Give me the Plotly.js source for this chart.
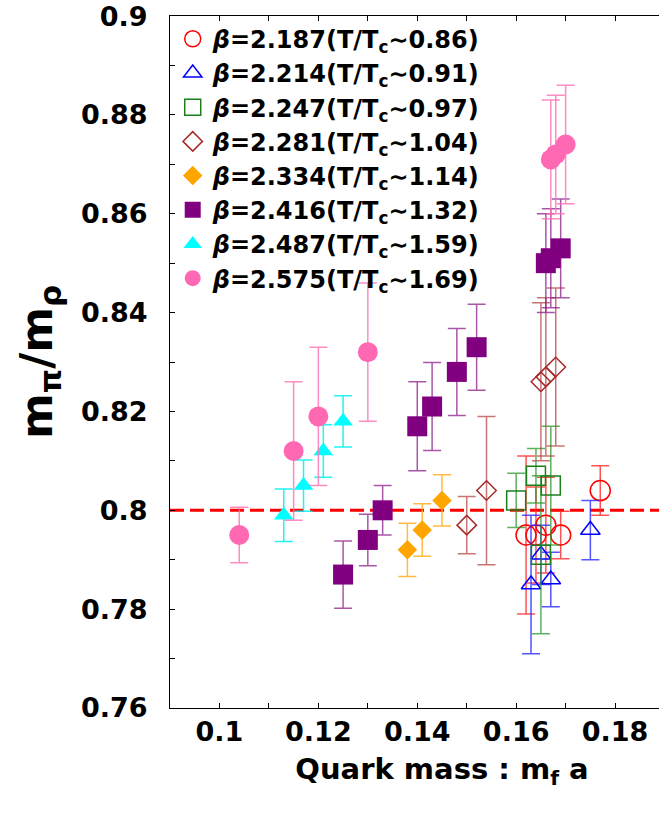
<!DOCTYPE html>
<html>
<head>
<meta charset="utf-8">
<script src="https://cdn.plot.ly/plotly-3.0.1.min.js"></script>
<style>
html,body{margin:0;padding:0;overflow:hidden;background:#fff;}
#chart{width:720px;height:820px;}
</style>
</head>
<body>
<div id="chart"></div>
<script>
// Series data: quark mass (x), m_pi/m_rho (y), error (e)
const x2187 = [0.162, 0.164, 0.166, 0.169, 0.177];
const y2187 = [0.795, 0.795, 0.797, 0.795, 0.804];
const e2187 = [0.016, 0.0097, 0.0097, 0.0048, 0.005];

const x2214 = [0.163, 0.165, 0.167, 0.175];
const y2214 = [0.785, 0.791, 0.786, 0.796];
const e2214 = [0.014, 0.006, 0.0055, 0.006];

const x2247 = [0.160, 0.164, 0.165, 0.167];
const y2247 = [0.802, 0.807, 0.791, 0.805];
const e2247 = [0.0055, 0.0055, 0.016, 0.012];

const x2281 = [0.150, 0.154, 0.165, 0.166, 0.168];
const y2281 = [0.797, 0.804, 0.826, 0.827, 0.829];
const e2281 = [0.0058, 0.015, 0.016, 0.016, 0.016];

const x2334 = [0.138, 0.141, 0.145];
const y2334 = [0.792, 0.796, 0.802];
const e2334 = [0.0054, 0.0053, 0.0052];

const x2416 = [0.125, 0.130, 0.133, 0.140, 0.143, 0.148, 0.152, 0.166, 0.167, 0.169];
const y2416 = [0.787, 0.794, 0.800, 0.817, 0.821, 0.828, 0.833, 0.850, 0.851, 0.853];
const e2416 = [0.0068, 0.0052, 0.005, 0.009, 0.0089, 0.0088, 0.0087, 0.010, 0.010, 0.010];

const x2487 = [0.113, 0.117, 0.121, 0.125];
const y2487 = [0.799, 0.805, 0.812, 0.818];
const e2487 = [0.0053, 0.0052, 0.0053, 0.0052];

const x2575 = [0.104, 0.115, 0.120, 0.130, 0.167, 0.168, 0.170];
const y2575 = [0.795, 0.812, 0.819, 0.832, 0.871, 0.872, 0.874];
const e2575 = [0.0056, 0.014, 0.014, 0.014, 0.012, 0.012, 0.012];

const names = [
  "<i>β</i>=2.187(T/T<sub>c</sub>∼0.86)",
  "<i>β</i>=2.214(T/T<sub>c</sub>∼0.91)",
  "<i>β</i>=2.247(T/T<sub>c</sub>∼0.97)",
  "<i>β</i>=2.281(T/T<sub>c</sub>∼1.04)",
  "<i>β</i>=2.334(T/T<sub>c</sub>∼1.14)",
  "<i>β</i>=2.416(T/T<sub>c</sub>∼1.32)",
  "<i>β</i>=2.487(T/T<sub>c</sub>∼1.59)",
  "<i>β</i>=2.575(T/T<sub>c</sub>∼1.69)"
];
const yTicks = [0.76, 0.78, 0.8, 0.82, 0.84, 0.86, 0.88, 0.9];
const yTickText = ['0.76', '0.78', '0.8', '0.82', '0.84', '0.86', '0.88', '0.9'];
const xTicks = [0.1, 0.12, 0.14, 0.16, 0.18];
const xTickText = ['0.1', '0.12', '0.14', '0.16', '0.18'];
const refX = [0.09, 0.2];
const refY = [0.8, 0.8];

function tr(x, y, e, name, symbol, size, color, ecolor, open) {
  return {
    type: 'scatter', mode: 'markers', x: x, y: y, name: name,
    marker: open ? {symbol: symbol, size: size, color: color, line: {color: color, width: 1.5}}
                 : {symbol: symbol, size: size, color: color, line: {width: 0}},
    error_y: {type: 'data', array: e, visible: true, color: ecolor, thickness: 1.5, width: 9}
  };
}

const data = [
  {type: 'scatter', mode: 'lines', x: refX, y: refY, showlegend: false, hoverinfo: 'skip',
   line: {color: '#ff0000', width: 3, dash: '14px,6px'}},
  tr(x2187, y2187, e2187, names[0], 'circle-open', 20, '#ff0000', 'rgba(255,40,40,0.8)', true),
  tr(x2214, y2214, e2214, names[1], 'triangle-up-open', 17, '#0000ff', 'rgba(40,40,255,0.8)', true),
  tr(x2247, y2247, e2247, names[2], 'square-open', 19, '#1a7f1a', 'rgba(40,150,40,0.75)', true),
  tr(x2281, y2281, e2281, names[3], 'diamond-open', 15, '#a52a2a', 'rgba(175,60,60,0.7)', true),
  tr(x2334, y2334, e2334, names[4], 'diamond', 15, '#ffa500', 'rgba(255,170,20,0.8)', false),
  tr(x2416, y2416, e2416, names[5], 'square', 20, '#800080', 'rgba(140,30,140,0.75)', false),
  tr(x2487, y2487, e2487, names[6], 'triangle-up', 17, '#00ffff', 'rgba(0,240,240,0.85)', false),
  tr(x2575, y2575, e2575, names[7], 'circle', 20, '#ff69b4', 'rgba(255,110,180,0.8)', false)
];

const fam = '"DejaVu Sans", sans-serif';
const layout = {
  width: 720, height: 820,
  margin: {l: 170, r: 6, t: 16, b: 112},
  paper_bgcolor: '#fff', plot_bgcolor: '#fff',
  showlegend: true,
  legend: {x: 0.005, y: 0.999, xanchor: 'left', yanchor: 'top', bgcolor: 'rgba(0,0,0,0)',
           font: {family: fam, size: 24, color: '#000', weight: 'bold'}, tracegroupgap: 0},
  xaxis: {
    range: [0.09, 0.2], tickmode: 'array', tickvals: xTicks, ticktext: xTickText,
    ticks: 'inside', ticklen: 5, tickcolor: '#000', ticklabeloverflow: 'allow',
    minor: {dtick: 0.01, tick0: 0.1, ticks: 'inside', ticklen: 5, tickcolor: '#000'},
    showline: true, linecolor: '#000', linewidth: 1, mirror: 'ticks', showgrid: false, zeroline: false,
    tickfont: {family: fam, size: 27, color: '#000', weight: 'bold'},
    title: {text: 'Quark mass : m<sub>f</sub> a', font: {family: fam, size: 29, color: '#000', weight: 'bold'}, standoff: 12}
  },
  yaxis: {
    range: [0.76, 0.90001], tickmode: 'array', tickvals: yTicks, ticktext: yTickText,
    ticks: 'inside', ticklen: 5, tickcolor: '#000', ticklabelstandoff: 16, ticklabeloverflow: 'allow',
    minor: {dtick: 0.01, tick0: 0.76, ticks: 'inside', ticklen: 5, tickcolor: '#000'},
    showline: true, linecolor: '#000', linewidth: 1, mirror: 'ticks', showgrid: false, zeroline: false,
    tickfont: {family: fam, size: 27, color: '#000', weight: 'bold'},
    title: {text: 'm<sub>π</sub>/m<sub>ρ</sub>', font: {family: fam, size: 44, color: '#000', weight: 'bold'}, standoff: 14}
  }
};

Plotly.newPlot('chart', data, layout, {displayModeBar: false, staticPlot: true});
</script>
</body>
</html>
